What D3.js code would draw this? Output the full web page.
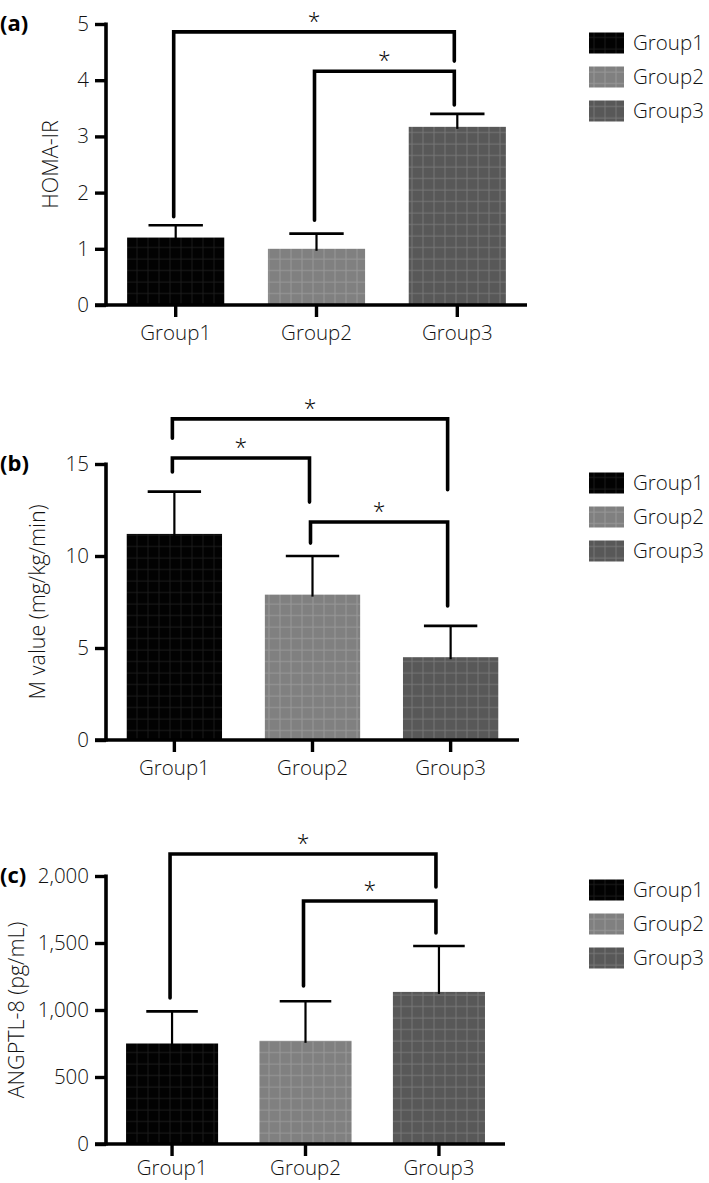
<!DOCTYPE html>
<html>
<head>
<meta charset="utf-8">
<script src="https://cdn.jsdelivr.net/npm/d3@7"></script>
<style>
  html, body { margin: 0; padding: 0; background: #fff; }
  svg { display: block; }
  text { font-family: "Open Sans", "Noto Sans", sans-serif; }
</style>
</head>
<body>
<svg id="chart" width="709" height="1183"></svg>
<script>
// ---------- data ----------
const categories = ["Group1", "Group2", "Group3"];

const homaMeans = [1.2, 1.0, 3.17];
const homaSD = [0.22, 0.27, 0.23];
const homaTicks = [0, 1, 2, 3, 4, 5];
const homaTickLabels = ["0", "1", "2", "3", "4", "5"];
// [from, to, bar level, left leg end, right leg end] in data units
const homaBrackets = [[0, 2, 4.86, 1.57, 4.34], [1, 2, 4.16, 1.51, 3.56]];

const mMeans = [11.2, 7.9, 4.5];
const mSD = [2.3, 2.1, 1.7];
const mTicks = [0, 5, 10, 15];
const mTickLabels = ["0", "5", "10", "15"];
const mBrackets = [[0, 2, 17.45, 16.4, 13.6], [0, 1, 15.33, 14.57, 12.93], [1, 2, 11.85, 10.7, 7.28]];

const angMeans = [750, 770, 1135];
const angSD = [240, 295, 343];
const angTicks = [0, 500, 1000, 1500, 2000];
const angTickLabels = ["0", "500", "1,000", "1,500", "2,000"];
const angBrackets = [[0, 2, 2164, 1090, 1918], [1, 2, 1813, 1179, 1575]];

const panelLabels = ["(a)", "(b)", "(c)"];
const yTitles = ["HOMA-IR", "M value (mg/kg/min)", "ANGPTL-8 (pg/mL)"];

// ---------- layout / style ----------
const svg = d3.select("#chart");
const fills = ["#020202", "#808080", "#585858"];
const gridCols = ["#1a1a1a", "#989898", "#767676"];

const defs = svg.append("defs");
categories.forEach((c, i) => {
  const p = defs.append("pattern")
    .attr("id", "pat" + i)
    .attr("patternUnits", "userSpaceOnUse")
    .attr("width", 11).attr("height", 11.5);
  p.append("rect").attr("width", 11).attr("height", 11.5).attr("fill", fills[i]);
  p.append("line").attr("x1", 5).attr("x2", 5).attr("y1", 0).attr("y2", 11.5)
    .attr("stroke", gridCols[i]).attr("stroke-width", 1);
  p.append("line").attr("x1", 0).attr("x2", 11).attr("y1", 6).attr("y2", 6)
    .attr("stroke", gridCols[i]).attr("stroke-width", 1);
});

const panels = [
  { means: homaMeans, sd: homaSD, ticks: homaTicks, tickLabels: homaTickLabels, brackets: homaBrackets,
    domain: [0, 5], top: 24, bottom: 305, xEnd: 527, titleX: 50, legendY: 43, xPad: 8 },
  { means: mMeans, sd: mSD, ticks: mTicks, tickLabels: mTickLabels, brackets: mBrackets,
    domain: [0, 15], top: 464, bottom: 740, xEnd: 519, titleX: 37, legendY: 483, xPad: 8 },
  { means: angMeans, sd: angSD, ticks: angTicks, tickLabels: angTickLabels, brackets: angBrackets,
    domain: [0, 2000], top: 876, bottom: 1144, xEnd: 505, titleX: 16, legendY: 890, xPad: 4 }
];

const axisX = 106;
const textCol = "#111";
const fs = 20.5;
const titleFs = 21.5;

panels.forEach((P, pi) => {
  const g = svg.append("g");
  const y = d3.scaleLinear().domain(P.domain).range([P.bottom, P.top]);
  const x = d3.scaleBand().domain(categories).range([axisX, P.xEnd])
    .paddingInner(0.31).paddingOuter(0.15);
  const cx = i => x(categories[i]) + x.bandwidth() / 2;

  // bars
  g.selectAll("rect.bar").data(P.means).join("rect")
    .attr("class", "bar")
    .attr("x", (d, i) => x(categories[i]))
    .attr("width", x.bandwidth())
    .attr("y", d => y(d))
    .attr("height", d => y(0) - y(d))
    .attr("fill", (d, i) => `url(#pat${i})`);

  // error bars
  const capW = x.bandwidth() * 0.56;
  P.means.forEach((m, i) => {
    const top = y(m + P.sd[i]);
    g.append("line").attr("x1", cx(i)).attr("x2", cx(i)).attr("y1", y(m) + 2).attr("y2", top)
      .attr("stroke", "#000").attr("stroke-width", 2.2);
    g.append("line").attr("x1", cx(i) - capW / 2).attr("x2", cx(i) + capW / 2).attr("y1", top).attr("y2", top)
      .attr("stroke", "#000").attr("stroke-width", 2.6);
  });

  // y axis
  const yAxis = d3.axisLeft(y).tickValues(P.ticks)
    .tickFormat((d, i) => P.tickLabels[i]).tickSize(11).tickSizeOuter(0).tickPadding(6);
  const ya = g.append("g").attr("transform", `translate(${axisX},0)`).call(yAxis);
  ya.select(".domain").attr("stroke-width", 3.6).attr("d", `M0,${P.top - 1.5}V${P.bottom + 1.5}`);
  ya.selectAll(".tick line").attr("stroke-width", 3.4);
  ya.selectAll(".tick text").attr("font-size", fs).attr("font-weight", 300)
    .attr("fill", textCol).style("font-family", '"Open Sans", sans-serif');

  // x axis
  const xAxis = d3.axisBottom(x).tickSize(12).tickSizeOuter(0).tickPadding(P.xPad);
  const xa = g.append("g").attr("transform", `translate(0,${P.bottom})`).call(xAxis);
  xa.select(".domain").remove();
  xa.selectAll(".tick line").attr("stroke-width", 3.4);
  xa.selectAll(".tick text").attr("font-size", fs).attr("font-weight", 300)
    .attr("fill", textCol).style("font-family", '"Open Sans", sans-serif');
  g.append("line").attr("x1", axisX - 11).attr("x2", P.xEnd).attr("y1", P.bottom).attr("y2", P.bottom)
    .attr("stroke", "#000").attr("stroke-width", 3.6);

  // y title
  g.append("text")
    .attr("transform", `translate(${P.titleX},${(P.top + P.bottom) / 2}) rotate(-90)`)
    .attr("text-anchor", "middle").attr("dy", "0.35em")
    .attr("font-size", titleFs).attr("font-weight", 300).attr("fill", textCol)
    .text(yTitles[pi]);

  // panel label (centred on the top tick)
  g.append("text").attr("x", 0).attr("y", P.top).attr("dy", "0.3em")
    .attr("font-size", 22).attr("font-weight", 700).attr("fill", "#000")
    .text(panelLabels[pi]);

  // significance brackets
  P.brackets.forEach(b => {
    const x1 = cx(b[0]) - 2, x2 = cx(b[1]) - 3;
    const yl = y(b[2]);
    g.append("path")
      .attr("d", `M${x1},${y(b[3])}V${yl}H${x2}V${y(b[4])}`)
      .attr("fill", "none").attr("stroke", "#000").attr("stroke-width", 3.6)
      .attr("stroke-linejoin", "miter").attr("stroke-linecap", "round");
    g.append("text").attr("x", (x1 + x2) / 2).attr("y", yl - 2)
      .attr("text-anchor", "middle").attr("font-size", 23).attr("font-weight", 300)
      .attr("fill", "#000").text("*");
  });

  // legend
  const lg = g.append("g").attr("transform", `translate(589,${P.legendY})`);
  categories.forEach((c, i) => {
    lg.append("rect").attr("x", 0).attr("y", i * 34 - 10.5).attr("width", 35).attr("height", 21)
      .attr("fill", `url(#pat${i})`);
    lg.append("text").attr("x", 44).attr("y", i * 34).attr("dy", "0.35em")
      .attr("font-size", fs).attr("font-weight", 300).attr("fill", textCol).text(c);
  });
});
</script>
</body>
</html>
